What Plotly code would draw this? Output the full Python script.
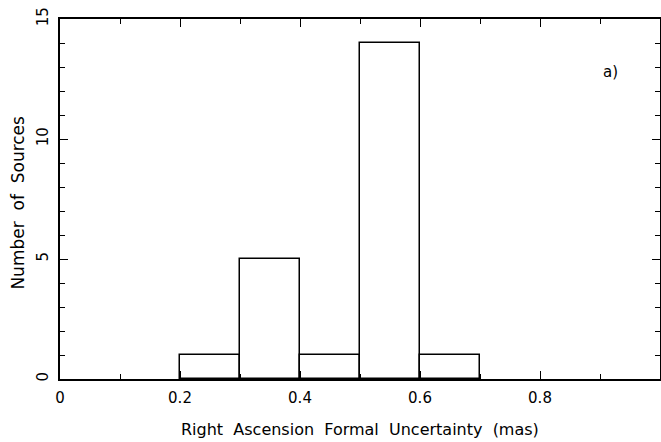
import plotly.graph_objects as go

bin_left = [0.2, 0.3, 0.4, 0.5, 0.6]
bin_width = 0.1
counts = [1, 5, 1, 14, 1]

x_tickvals = [0, 0.2, 0.4, 0.6, 0.8]
x_ticktext = ["0", "0.2", "0.4", "0.6", "0.8"]
y_tickvals = [0, 5, 10, 15]
y_ticktext = ["0", "5", "10", "15"]

x_title = "Right \u00a0Ascension \u00a0Formal \u00a0Uncertainty \u00a0(mas)"
y_title = "Number \u00a0of \u00a0Sources"
panel_label = "a)"

font_family = "DejaVu Sans, sans-serif"

fig = go.Figure()
fig.add_trace(go.Bar(
    x=[b + bin_width / 2 for b in bin_left],
    y=counts,
    width=bin_width,
    marker=dict(color="white", line=dict(color="black", width=1.5)),
    showlegend=False,
))

fig.add_annotation(x=0.918, y=12.8, xref="x", yref="y", text=panel_label, showarrow=False,
                   font=dict(size=15, color="black", family=font_family))
fig.add_annotation(x=0.5, y=-50 / 360, xref="paper", yref="paper", text=x_title,
                   showarrow=False, xanchor="center", yanchor="middle",
                   font=dict(size=16, color="black", family=font_family))
fig.add_annotation(x=-42 / 600, y=0.49, xref="paper", yref="paper", text=y_title,
                   showarrow=False, xanchor="center", yanchor="middle", textangle=-90,
                   font=dict(size=17, color="black", family=font_family))

fig.update_layout(
    width=661, height=442,
    margin=dict(l=60, r=1, t=19, b=63),
    paper_bgcolor="white", plot_bgcolor="white",
    font=dict(family=font_family, size=15, color="black"),
    bargap=0,
)
fig.update_xaxes(
    range=[0, 1.0], showgrid=False, zeroline=False, automargin=False,
    showline=True, linecolor="black", linewidth=1.5, mirror="ticks",
    ticks="inside", ticklen=8, tickwidth=1.2, tickcolor="black",
    tickvals=x_tickvals, ticktext=x_ticktext, ticklabelstandoff=4,
    minor=dict(dtick=0.1, ticks="inside", ticklen=5, tickwidth=1.2, tickcolor="black", showgrid=False),
)
fig.update_yaxes(
    range=[0, 15], showgrid=False, zeroline=False, automargin=False,
    showline=True, linecolor="black", linewidth=1.5, mirror="ticks",
    ticks="inside", ticklen=8, tickwidth=1.2, tickcolor="black",
    tickvals=y_tickvals, ticktext=y_ticktext, tickangle=-90, ticklabelstandoff=4,
    minor=dict(dtick=1, ticks="inside", ticklen=5, tickwidth=1.2, tickcolor="black", showgrid=False),
)

fig.write_html("out.html", config={"displayModeBar": False},
               post_script="document.body.style.margin='0px';document.body.style.overflow='hidden';")
